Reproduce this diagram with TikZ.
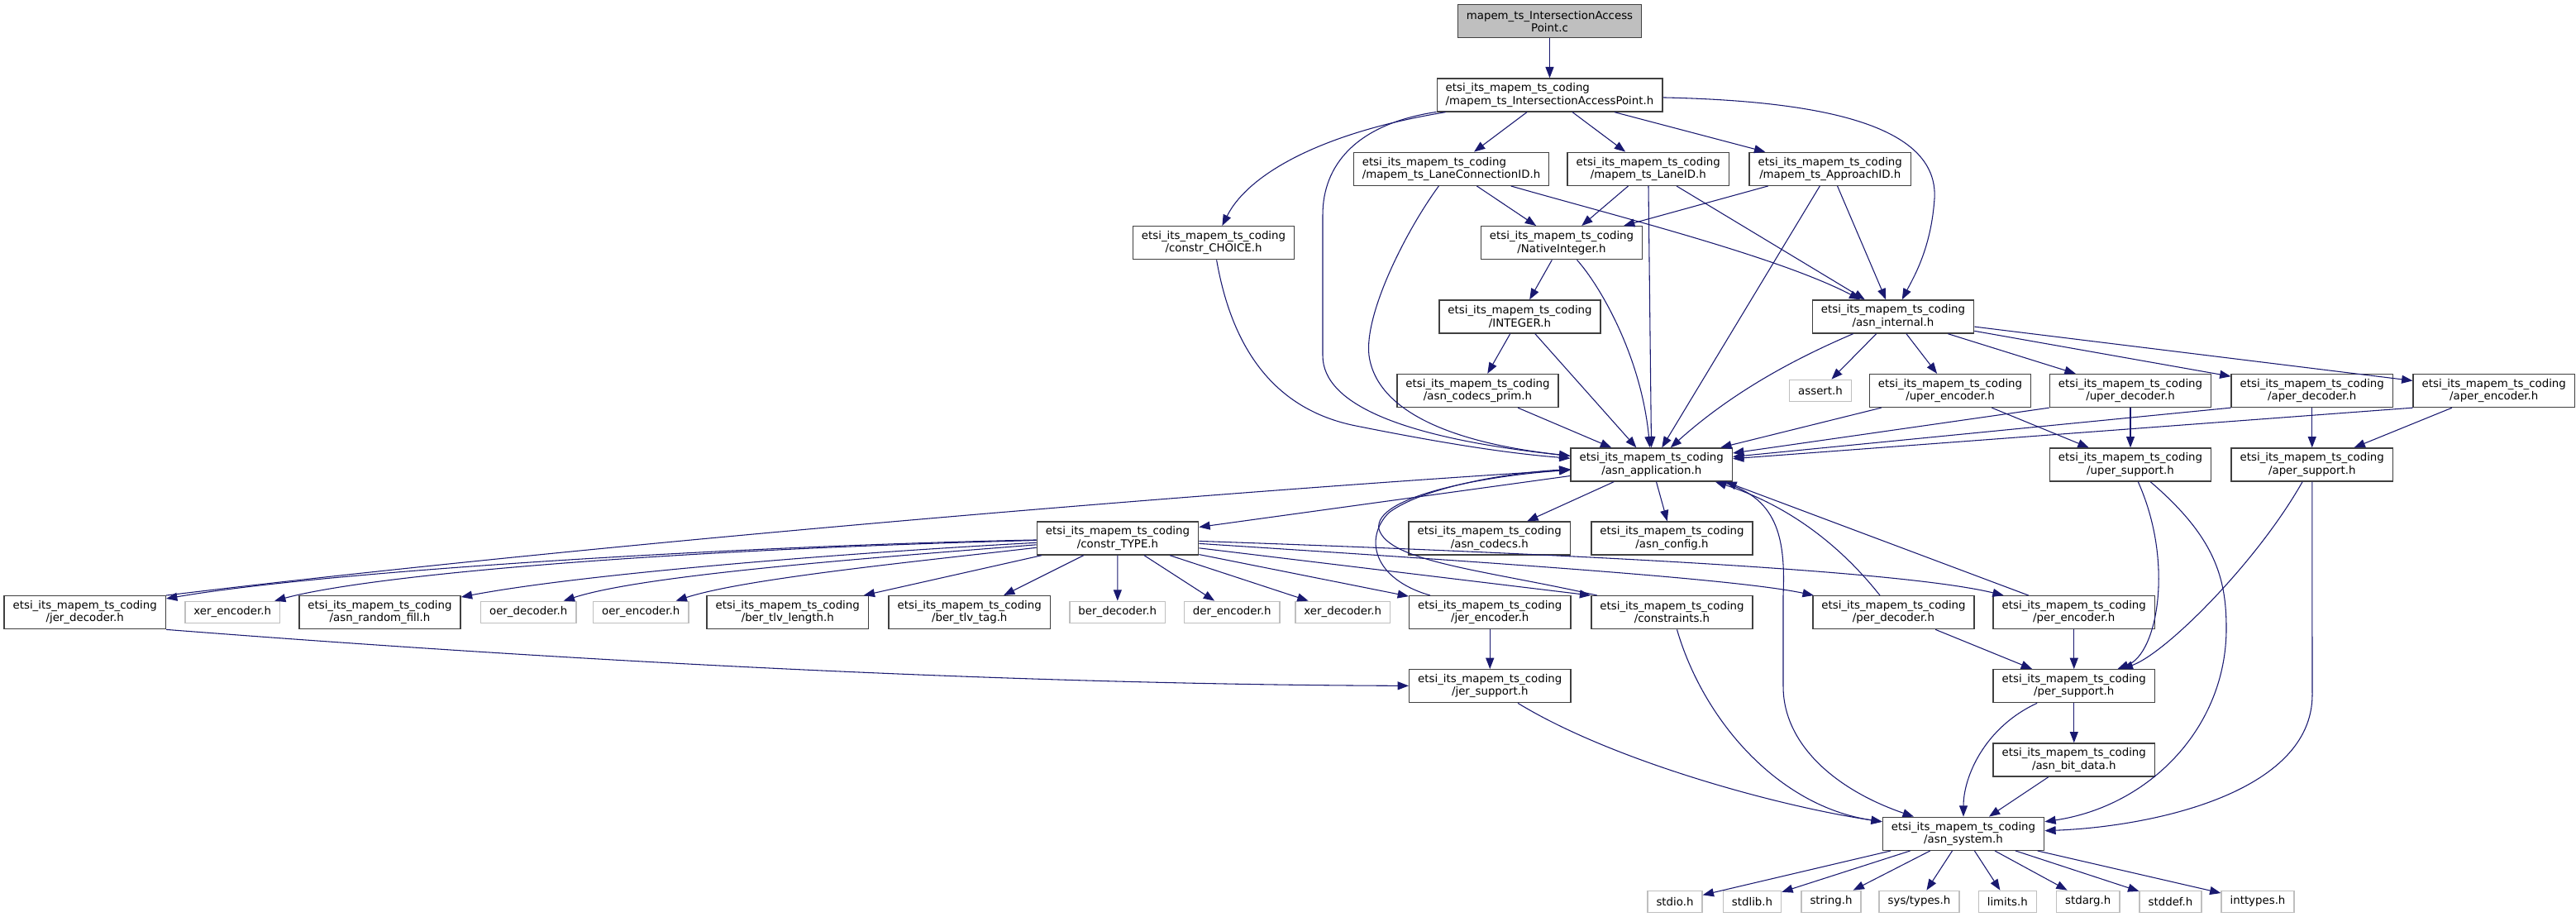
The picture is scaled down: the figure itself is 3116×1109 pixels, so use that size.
\documentclass[tikz,border=0pt]{standalone}
\usepackage{fontspec}
\newfontfamily\dxfont{DejaVu Sans}
\usetikzlibrary{arrows.meta}
\definecolor{midnight}{HTML}{191970}
\newcommand{\etsi}[1]{etsi\_its\_mapem\_ts\_coding\\/#1}

\begin{document}
\begin{tikzpicture}[x=0.75pt,y=-0.75pt,
	font=\dxfont\fontsize{10}{11.5}\selectfont,
	file/.style={draw=black!75,line width=1pt,fill=white,align=center,inner xsep=7.9pt,inner ysep=0pt,minimum height=30pt},
	leftfile/.style={file,align=left},
	sysfile/.style={draw=black!25,line width=1pt,fill=white,inner xsep=7.9pt,inner ysep=0pt,minimum height=19.5pt},
	rootfile/.style={file,fill=black!25},
	dep/.style={draw=midnight,line width=0.8pt,-{Triangle[length=10pt,width=7.5pt]}}]

	\useasboundingbox[fill=white] (0,0) rectangle (3116,1109);

	% top files
	\node[rootfile] (root) at (1874.5,25.7) {mapem\_ts\_IntersectionAccess\\Point.c};
	\node[leftfile] (iap) at (1874.5,115) {\etsi{mapem\_ts\_IntersectionAccessPoint.h}};
	\node[leftfile] (lcid) at (1755.5,204.3) {\etsi{mapem\_ts\_LaneConnectionID.h}};
	\node[file] (laneid) at (1993.75,204.3) {\etsi{mapem\_ts\_LaneID.h}};
	\node[file] (approach) at (2213.75,204.3) {\etsi{mapem\_ts\_ApproachID.h}};
	\node[file] (choice) at (1468,293.7) {\etsi{constr\_CHOICE.h}};
	\node[file] (native) at (1889,293.7) {\etsi{NativeInteger.h}};
	\node[file] (integer) at (1838.5,383) {\etsi{INTEGER.h}};
	\node[file] (asnint) at (2290,383) {\etsi{asn\_internal.h}};

	% codec files
	\node[sysfile] (assert) at (2202,472.3) {assert.h};
	\node[file] (codecsprim) at (1787.5,472.5) {\etsi{asn\_codecs\_prim.h}};
	\node[file] (uperenc) at (2359,472.5) {\etsi{uper\_encoder.h}};
	\node[file] (uperdec) at (2577,472.5) {\etsi{uper\_decoder.h}};
	\node[file] (aperdec) at (2796.75,472.5) {\etsi{aper\_decoder.h}};
	\node[file] (aperenc) at (3016.75,472.5) {\etsi{aper\_encoder.h}};
	\node[file] (asnapp) at (1997.75,562) {\etsi{asn\_application.h}};
	\node[file] (upersup) at (2577,562) {\etsi{uper\_support.h}};
	\node[file] (apersup) at (2796.75,562) {\etsi{aper\_support.h}};
	\node[file] (ctype) at (1352,651) {\etsi{constr\_TYPE.h}};
	\node[file] (codecs) at (1801.75,651) {\etsi{asn\_codecs.h}};
	\node[file] (config) at (2022.5,651) {\etsi{asn\_config.h}};

	% row under constr_TYPE
	\node[file] (jerdec) at (102.75,740.7) {\etsi{jer\_decoder.h}};
	\node[sysfile] (xerenc) at (281.25,740.3) {xer\_encoder.h};
	\node[file] (randfill) at (459.5,740.7) {\etsi{asn\_random\_fill.h}};
	\node[sysfile] (oerdec) at (639.25,740.3) {oer\_decoder.h};
	\node[sysfile] (oerenc) at (775.25,740.3) {oer\_encoder.h};
	\node[file] (berlen) at (952.75,740.7) {\etsi{ber\_tlv\_length.h}};
	\node[file] (bertag) at (1172.75,740.7) {\etsi{ber\_tlv\_tag.h}};
	\node[sysfile] (berdec) at (1351.75,740.3) {ber\_decoder.h};
	\node[sysfile] (derenc) at (1490.25,740.3) {der\_encoder.h};
	\node[sysfile] (xerdec) at (1624.25,740.3) {xer\_decoder.h};
	\node[file] (jerenc) at (1802.25,740.7) {\etsi{jer\_encoder.h}};
	\node[file] (constr) at (2022.5,740.7) {\etsi{constraints.h}};
	\node[file] (perdec) at (2290.5,740.7) {\etsi{per\_decoder.h}};
	\node[file] (perenc) at (2508.75,740.7) {\etsi{per\_encoder.h}};

	% support files
	\node[file] (jersup) at (1802.25,829.7) {\etsi{jer\_support.h}};
	\node[file] (persup) at (2508.75,829.7) {\etsi{per\_support.h}};
	\node[file] (bitdata) at (2508.75,919) {\etsi{asn\_bit\_data.h}};
	\node[file] (asnsys) at (2375,1008.3) {\etsi{asn\_system.h}};

	% system headers
	\node[sysfile] (stdio) at (2026,1090.3) {stdio.h};
	\node[sysfile] (stdlib) at (2119.5,1090.3) {stdlib.h};
	\node[sysfile] (string) at (2215,1090.3) {string.h};
	\node[sysfile] (systypes) at (2321.5,1090.3) {sys/types.h};
	\node[sysfile] (limits) at (2428.25,1090.3) {limits.h};
	\node[sysfile] (stdarg) at (2525.75,1090.3) {stdarg.h};
	\node[sysfile] (stddef) at (2625.5,1090.3) {stddef.h};
	\node[sysfile] (inttypes) at (2731,1090.3) {inttypes.h};

	% includes of the top files
	\draw[dep] (root) -- (iap);
	\draw[dep] (iap) -- (lcid);
	\draw[dep] (iap) -- (laneid);
	\draw[dep] (iap) -- (approach);
	\draw[dep] (iap) .. controls (2200,122) and (2345,150) .. (2340,240) .. controls (2336,300) and (2315,335) .. (asnint);
	\draw[dep] (iap) .. controls (1600,160) and (1510,210) .. (choice);
	\draw[dep] (iap) .. controls (1640,150) and (1600,200) .. (1600,260) -- (1600,430) .. controls (1600,490) and (1700,530) .. (asnapp);
	\draw[dep] (lcid) -- (native);
	\draw[dep] (lcid) .. controls (1950,260) and (2150,310) .. (asnint);
	\draw[dep] (lcid) .. controls (1700,280) and (1650,380) .. (1656,430) .. controls (1665,495) and (1750,535) .. (asnapp);
	\draw[dep] (laneid) -- (native);
	\draw[dep] (laneid) -- (asnint);
	\draw[dep] (laneid) -- (asnapp);
	\draw[dep] (approach) -- (native);
	\draw[dep] (approach) -- (asnint);
	\draw[dep] (approach) -- (asnapp);
	\draw[dep] (native) -- (integer);
	\draw[dep] (native) .. controls (1935,345) and (1985,430) .. (asnapp);
	\draw[dep] (choice) .. controls (1490,420) and (1540,495) .. (1640,515) .. controls (1740,535) and (1820,548) .. (asnapp);
	\draw[dep] (integer) -- (codecsprim);
	\draw[dep] (integer) -- (asnapp);
	\draw[dep] (codecsprim) -- (asnapp);

	% includes of asn_internal.h and the codecs
	\draw[dep] (asnint) -- (assert);
	\draw[dep] (asnint) -- (uperenc);
	\draw[dep] (asnint) -- (uperdec);
	\draw[dep] (asnint) -- (aperdec);
	\draw[dep] (asnint) -- (aperenc);
	\draw[dep] (asnint) .. controls (2180,430) and (2100,470) .. (asnapp);
	\draw[dep] (uperenc) -- (asnapp);
	\draw[dep] (uperenc) -- (upersup);
	\draw[dep] (uperdec.south west) -- (asnapp);
	\draw[dep] (uperdec) -- (upersup);
	\draw[dep] (aperdec.south west) -- (asnapp);
	\draw[dep] (aperdec) -- (apersup);
	\draw[dep] (aperenc.south west) -- (asnapp);
	\draw[dep] (aperenc) -- (apersup);

	% includes of asn_application.h
	\draw[dep] (asnapp) -- (codecs);
	\draw[dep] (asnapp) -- (config);
	\draw[dep] (asnapp) -- (ctype);
	\draw[dep] (asnapp) .. controls (2150,600) and (2160,650) .. (2157,720) -- (2157,830) .. controls (2157,900) and (2220,955) .. (asnsys);

	% includes of constr_TYPE.h
	\draw[dep] (ctype) .. controls (900,660) and (400,690) .. (jerdec);
	\draw[dep] (ctype) .. controls (800,665) and (450,695) .. (xerenc);
	\draw[dep] (ctype) .. controls (1000,670) and (700,695) .. (randfill);
	\draw[dep] (ctype) .. controls (1050,675) and (780,695) .. (oerdec);
	\draw[dep] (ctype) .. controls (1100,680) and (900,700) .. (oerenc);
	\draw[dep] (ctype) -- (berlen);
	\draw[dep] (ctype) -- (bertag);
	\draw[dep] (ctype) -- (berdec);
	\draw[dep] (ctype) -- (derenc);
	\draw[dep] (ctype) -- (xerdec);
	\draw[dep] (ctype) -- (jerenc);
	\draw[dep] (ctype) -- (constr.north west);
	\draw[dep] (ctype) .. controls (1800,680) and (2100,700) .. (perdec);
	\draw[dep] (ctype) .. controls (1900,670) and (2300,690) .. (perenc);

	% includes of the lower files
	\draw[dep] (jerdec.north east) .. controls (700,660) and (1400,600) .. (asnapp);
	\draw[dep] (jerdec.south east) .. controls (800,808) and (1300,828) .. (jersup);
	\draw[dep] (jerenc) -- (jersup);
	\draw[dep] (jerenc) .. controls (1660,700) and (1650,650) .. (1680,620) .. controls (1720,590) and (1820,572) .. (asnapp);
	\draw[dep] (constr) .. controls (1800,690) and (1680,680) .. (1668,640) .. controls (1660,600) and (1800,575) .. (asnapp);
	\draw[dep] (jersup) .. controls (1950,920) and (2150,975) .. (asnsys);
	\draw[dep] (constr) .. controls (2060,870) and (2150,975) .. (asnsys);
	\draw[dep] (perdec) .. controls (2250,690) and (2190,620) .. (asnapp.-15);
	\draw[dep] (perenc) -- (asnapp.-13);
	\draw[dep] (perdec) -- (persup);
	\draw[dep] (perenc) -- (persup);
	\draw[dep] (upersup) .. controls (2630,680) and (2610,790) .. (persup);
	\draw[dep] (upersup) .. controls (2680,650) and (2693,700) .. (2693,760) .. controls (2693,880) and (2600,975) .. (asnsys);
	\draw[dep] (apersup) .. controls (2730,680) and (2620,790) .. (persup);
	\draw[dep] (apersup.south) -- (2797,840) .. controls (2797,960) and (2600,1000) .. (asnsys);
	\draw[dep] (persup) -- (bitdata);
	\draw[dep] (persup) .. controls (2400,880) and (2375,940) .. (asnsys);
	\draw[dep] (bitdata) -- (asnsys);

	% includes of asn_system.h
	\draw[dep] (asnsys) -- (stdio);
	\draw[dep] (asnsys) -- (stdlib);
	\draw[dep] (asnsys) -- (string);
	\draw[dep] (asnsys) -- (systypes);
	\draw[dep] (asnsys) -- (limits);
	\draw[dep] (asnsys) -- (stdarg);
	\draw[dep] (asnsys) -- (stddef);
	\draw[dep] (asnsys) -- (inttypes);
\end{tikzpicture}
\end{document}
